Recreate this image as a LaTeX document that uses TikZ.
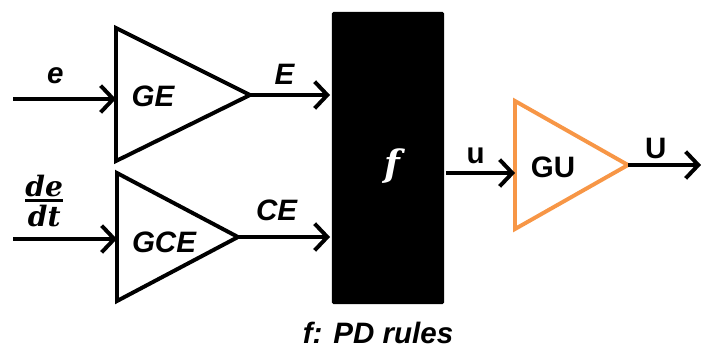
\documentclass[tikz,border=0pt]{standalone}
\usepackage{fontspec}
\setmainfont{Liberation Sans}
\newfontfamily\serifit{DejaVu Serif}
\usetikzlibrary{positioning,arrows.meta}
\definecolor{gainorange}{RGB}{247,150,70}

\begin{document}
\begin{tikzpicture}[x=0.025cm,y=-0.025cm,line width=2.8pt,
    every node/.style={font=\fontsize{21}{24}\selectfont\bfseries\itshape},
    upright/.style={font=\fontsize{21}{24}\selectfont\bfseries},
    sig/.style={-{Straight Barb[length=9pt,width=19pt]}},
    gain/.style={draw,line join=miter}]
    \useasboundingbox (0,0) rectangle (701,351);
    % rule base
    \node[fill=black,rounded corners=1pt,inner sep=0pt,
      minimum width=2.8cm,minimum height=7.3cm] (f) at (388,158) {};
    \node[white,font=\fontsize{26}{28}\selectfont\serifit\bfseries\itshape] (fl) at (392,166) {f};
    \node (rules) at (378,333) {f: PD rules};
    % gain blocks
    \coordinate (GE-in) at (116,99);
    \coordinate (GE-out) at (250,95);
    \draw[gain] (116,28) -- (GE-out) -- (116,161) -- cycle;
    \node (GE) at (153,96) {GE};
    \coordinate (GCE-in) at (117,239);
    \coordinate (GCE-out) at (238,237);
    \draw[gain] (117,173) -- (GCE-out) -- (117,301) -- cycle;
    \node (GCE) at (164,242) {GCE};
    \coordinate (GU-in) at (515,173);
    \coordinate (GU-out) at (628,165);
    \draw[gain,gainorange] (515,101) -- (GU-out) -- (515,229) -- cycle;
    \node[upright] (GU) at (553,167) {GU};
    % signals
    \coordinate (e) at (13,99);
    \coordinate (dedt) at (13,239);
    \coordinate (U) at (701,165);
    \path[sig]
    (e) edge node[above=6pt,pos=0.41] {e} (GE-in)
    (dedt) edge node[above=4pt,pos=0.3,font=\fontsize{20}{22}\selectfont\serifit\bfseries\itshape]
      {${\hbox{de}\above 2pt \hbox{dt}}$} (GCE-in)
    (GE-out) edge node[above=3pt,pos=0.43] {E} (GE-out -| f.west)
    (GCE-out) edge node[above=7pt,pos=0.42] {CE} (GCE-out -| f.west)
    (f.east |- GU-in) edge node[above=2pt,pos=0.43,upright] {u} (GU-in)
    (GU-out) edge node[above=0pt,pos=0.38,upright] {U} (U);
\end{tikzpicture}
\end{document}
